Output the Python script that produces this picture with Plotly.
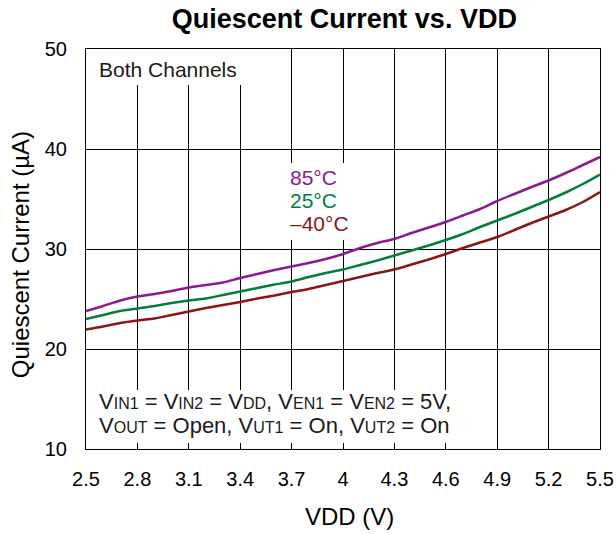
import plotly.graph_objects as go

vdd = [2.5, 2.6, 2.7, 2.8, 2.9, 3.0, 3.1, 3.2, 3.3, 3.4, 3.5, 3.6, 3.7, 3.8, 3.9, 4.0,
       4.1, 4.2, 4.3, 4.4, 4.5, 4.6, 4.7, 4.8, 4.9, 5.0, 5.1, 5.2, 5.3, 5.4, 5.5]
i_85 = [23.8, 24.3, 24.85, 25.25, 25.5, 25.8, 26.15, 26.4, 26.65, 27.1, 27.5, 27.9, 28.25, 28.6, 29.0, 29.5,
        30.1, 30.6, 31.0, 31.6, 32.15, 32.7, 33.35, 34.0, 34.8, 35.5, 36.2, 36.85, 37.6, 38.4, 39.2]
i_25 = [23.0, 23.4, 23.8, 24.05, 24.3, 24.6, 24.85, 25.05, 25.4, 25.75, 26.1, 26.45, 26.75, 27.2, 27.6, 27.95,
        28.4, 28.85, 29.35, 29.85, 30.35, 30.9, 31.5, 32.2, 32.85, 33.5, 34.2, 34.9, 35.65, 36.5, 37.45]
i_m40 = [21.95, 22.25, 22.6, 22.85, 23.05, 23.4, 23.75, 24.1, 24.4, 24.7, 25.05, 25.35, 25.7, 26.0, 26.4, 26.8,
         27.2, 27.6, 27.95, 28.45, 28.95, 29.5, 30.1, 30.65, 31.2, 31.9, 32.6, 33.25, 33.9, 34.7, 35.7]
x_ticks = [2.5, 2.8, 3.1, 3.4, 3.7, 4.0, 4.3, 4.6, 4.9, 5.2, 5.5]
x_tick_labels = ["2.5", "2.8", "3.1", "3.4", "3.7", "4", "4.3", "4.6", "4.9", "5.2", "5.5"]
y_ticks = [10, 20, 30, 40, 50]
series_names = ["85°C", "25°C", "–40°C"]

C85 = "#8c1a8f"
C25 = "#007f3a"
CM40 = "#8c1515"
FONT = "Arial"
TXT = "#1a1a1a"

fig = go.Figure()
for y, c, n in [(i_85, C85, series_names[0]), (i_25, C25, series_names[1]), (i_m40, CM40, series_names[2])]:
    fig.add_trace(go.Scatter(x=vdd, y=y, mode="lines", name=n,
                             line=dict(color=c, width=2.5, shape="spline", smoothing=0.6),
                             showlegend=False))

# white boxes behind the text (between gridlines and traces)
for x0, x1, y0, y1 in [(2.5, 3.42, 46.4, 50), (3.68, 4.03, 30.9, 38.6), (2.5, 4.65, 10.6, 15.9)]:
    fig.add_shape(type="rect", xref="x", yref="y", x0=x0, x1=x1, y0=y0, y1=y1,
                  fillcolor="white", line=dict(width=0), layer="between")

fig.add_annotation(x=2.566, y=48.0, xref="x", yref="y", xanchor="left", yanchor="middle",
                   text="Both Channels", showarrow=False,
                   font=dict(family=FONT, size=21, color=TXT))
for i, (n, c) in enumerate(zip(series_names, [C85, C25, CM40])):
    fig.add_annotation(x=3.68, y=37.2 - 2.3 * i, xref="x", yref="y", xanchor="left", yanchor="middle",
                       text=n, showarrow=False, font=dict(family=FONT, size=21, color=c))

def s(t):
    return f"<span style='font-size:16px'>{t}</span>"

cond_lines = [f"V{s('IN1')} = V{s('IN2')} = V{s('DD')}, V{s('EN1')} = V{s('EN2')} = 5V,",
              f"V{s('OUT')} = Open, V{s('UT1')} = On, V{s('UT2')} = On"]
for i, t in enumerate(cond_lines):
    fig.add_annotation(x=2.566, y=14.75 - 2.4 * i, xref="x", yref="y", xanchor="left", yanchor="middle",
                       text=t, showarrow=False, font=dict(family=FONT, size=22, color=TXT))

# axis titles
fig.add_annotation(x=0.512, y=-0.168, xref="paper", yref="paper", xanchor="center", yanchor="middle",
                   text="VDD (V)", showarrow=False, font=dict(family=FONT, size=24, color="black"))
fig.add_annotation(x=-0.128, y=0.485, xref="paper", yref="paper", xanchor="center", yanchor="middle",
                   text="Quiescent Current (µA)", textangle=-90, showarrow=False,
                   font=dict(family=FONT, size=24, color="black"))

fig.update_layout(
    width=616, height=534,
    margin=dict(l=86, r=16, t=49, b=85, autoexpand=False),
    paper_bgcolor="white", plot_bgcolor="white",
    title=dict(text="<b>Quiescent Current vs. VDD</b>", x=0.559, xanchor="center",
               y=0.966, yanchor="middle", font=dict(family=FONT, size=27, color="black")),
    font=dict(family=FONT, color="black"),
)
fig.update_xaxes(range=[2.5, 5.5], tickvals=x_ticks, ticktext=x_tick_labels,
                 showgrid=True, gridcolor="black", gridwidth=1,
                 showline=True, linecolor="black", linewidth=1, mirror=True,
                 ticks="", tickfont=dict(family=FONT, size=20), zeroline=False,
                 ticklabelstandoff=12, automargin=False)
fig.update_yaxes(range=[10, 50], tickvals=y_ticks,
                 showgrid=True, gridcolor="black", gridwidth=1,
                 showline=True, linecolor="black", linewidth=1, mirror=True,
                 ticks="", tickfont=dict(family=FONT, size=20), zeroline=False,
                 ticklabelstandoff=14, automargin=False)

fig.write_html("out.html", config={"displayModeBar": False},
               post_script="document.body.style.margin='0';document.body.style.overflow='hidden';")
